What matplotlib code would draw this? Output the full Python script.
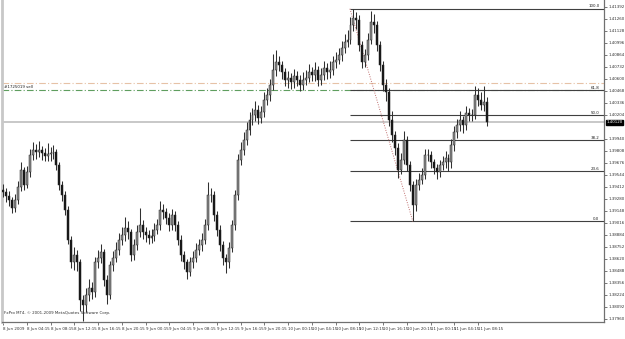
import matplotlib
matplotlib.use("Agg")
import matplotlib.pyplot as plt
import matplotlib.transforms as mtransforms

# ---------------- data (30-minute bars, 8 Jun 2009 onward) ----------------
opens = [1.3938, 1.3935, 1.3931, 1.3927, 1.3918, 1.3927, 1.3941, 1.3960, 1.3943, 1.3957,
         1.3976, 1.3982, 1.3979, 1.3982, 1.3978, 1.3975, 1.3977, 1.3978, 1.3979, 1.3965,
         1.3943, 1.3932, 1.3916, 1.3883, 1.3858, 1.3866, 1.3858, 1.3817, 1.3811, 1.3822,
         1.3830, 1.3825, 1.3858, 1.3863, 1.3869, 1.3839, 1.3822, 1.3855, 1.3863, 1.3872,
         1.3883, 1.3888, 1.3896, 1.3891, 1.3866, 1.3877, 1.3891, 1.3899, 1.3891, 1.3888,
         1.3885, 1.3887, 1.3894, 1.3899, 1.3916, 1.3913, 1.3907, 1.3899, 1.3910, 1.3899,
         1.3883, 1.3866, 1.3858, 1.3847, 1.3858, 1.3863, 1.3872, 1.3877, 1.3883, 1.3899,
         1.3932, 1.3932, 1.3910, 1.3894, 1.3877, 1.3863, 1.3858, 1.3874, 1.3899, 1.3932,
         1.3971, 1.3982, 1.3993, 1.4004, 1.4015, 1.4020, 1.4026, 1.4017, 1.4023, 1.4037,
         1.4042, 1.4053, 1.4070, 1.4078, 1.4075, 1.4067, 1.4059, 1.4061, 1.4056, 1.4063,
         1.4059, 1.4053, 1.4059, 1.4061, 1.4067, 1.4064, 1.4070, 1.4059, 1.4064, 1.4072,
         1.4067, 1.4070, 1.4078, 1.4081, 1.4086, 1.4094, 1.4100, 1.4103, 1.4119, 1.4127,
         1.4125, 1.4097, 1.4078, 1.4086, 1.4103, 1.4122, 1.4119, 1.4097, 1.4075, 1.4053,
         1.4045, 1.4015, 1.3998, 1.3984, 1.3960, 1.3971, 1.3993, 1.3965, 1.3943, 1.3921,
         1.3943, 1.3949, 1.3954, 1.3976, 1.3976, 1.3968, 1.3962, 1.3957, 1.3965, 1.3968,
         1.3973, 1.3968, 1.3987, 1.4001, 1.4009, 1.4015, 1.4009, 1.4022, 1.4020, 1.4020,
         1.4042, 1.4037, 1.4031, 1.4034]
highs = [1.3944, 1.3940, 1.3936, 1.3930, 1.3933, 1.3948, 1.3968, 1.3963, 1.3964, 1.3983,
         1.3990, 1.3988, 1.3992, 1.3986, 1.3984, 1.3989, 1.3985, 1.3987, 1.3983, 1.3968,
         1.3948, 1.3936, 1.3920, 1.3887, 1.3875, 1.3872, 1.3862, 1.3822, 1.3830, 1.3840,
         1.3836, 1.3864, 1.3872, 1.3878, 1.3873, 1.3844, 1.3860, 1.3870, 1.3880, 1.3890,
         1.3897, 1.3908, 1.3904, 1.3895, 1.3884, 1.3899, 1.3918, 1.3905, 1.3897, 1.3894,
         1.3895, 1.3901, 1.3906, 1.3925, 1.3922, 1.3918, 1.3912, 1.3917, 1.3914, 1.3903,
         1.3888, 1.3871, 1.3862, 1.3864, 1.3870, 1.3879, 1.3884, 1.3890, 1.3906, 1.3946,
         1.3940, 1.3936, 1.3915, 1.3899, 1.3881, 1.3867, 1.3880, 1.3905, 1.3938, 1.3977,
         1.3990, 1.4001, 1.4012, 1.4023, 1.4028, 1.4035, 1.4031, 1.4030, 1.4045, 1.4050,
         1.4060, 1.4087, 1.4092, 1.4085, 1.4080, 1.4072, 1.4069, 1.4066, 1.4071, 1.4068,
         1.4064, 1.4067, 1.4070, 1.4076, 1.4073, 1.4078, 1.4074, 1.4072, 1.4080, 1.4077,
         1.4079, 1.4085, 1.4089, 1.4094, 1.4102, 1.4109, 1.4114, 1.4128, 1.4137, 1.4133,
         1.4130, 1.4102, 1.4093, 1.4110, 1.4134, 1.4131, 1.4124, 1.4102, 1.4080, 1.4060,
         1.4050, 1.4024, 1.4003, 1.3989, 1.3978, 1.4003, 1.3997, 1.3970, 1.3947, 1.3950,
         1.3956, 1.3962, 1.3983, 1.3983, 1.3980, 1.3972, 1.3966, 1.3971, 1.3975, 1.3980,
         1.3977, 1.3994, 1.4008, 1.4016, 1.4024, 1.4019, 1.4030, 1.4028, 1.4027, 1.4052,
         1.4050, 1.4045, 1.4052, 1.4040]
lows = [1.3930, 1.3924, 1.3920, 1.3912, 1.3913, 1.3922, 1.3936, 1.3938, 1.3940, 1.3952,
        1.3971, 1.3972, 1.3974, 1.3971, 1.3969, 1.3970, 1.3970, 1.3972, 1.3960, 1.3938,
        1.3926, 1.3910, 1.3878, 1.3852, 1.3850, 1.3848, 1.3805, 1.3794, 1.3803, 1.3815,
        1.3818, 1.3820, 1.3852, 1.3857, 1.3832, 1.3812, 1.3818, 1.3849, 1.3858, 1.3866,
        1.3877, 1.3882, 1.3884, 1.3860, 1.3861, 1.3872, 1.3886, 1.3884, 1.3880, 1.3878,
        1.3879, 1.3882, 1.3889, 1.3894, 1.3906, 1.3900, 1.3893, 1.3894, 1.3892, 1.3877,
        1.3860, 1.3851, 1.3840, 1.3843, 1.3852, 1.3858, 1.3866, 1.3871, 1.3878, 1.3894,
        1.3924, 1.3904, 1.3887, 1.3870, 1.3855, 1.3846, 1.3852, 1.3869, 1.3894, 1.3927,
        1.3965, 1.3976, 1.3987, 1.3998, 1.4009, 1.4013, 1.4010, 1.4011, 1.4018, 1.4031,
        1.4036, 1.4048, 1.4063, 1.4068, 1.4060, 1.4052, 1.4050, 1.4049, 1.4050, 1.4052,
        1.4046, 1.4048, 1.4053, 1.4056, 1.4057, 1.4058, 1.4052, 1.4053, 1.4059, 1.4060,
        1.4061, 1.4064, 1.4072, 1.4076, 1.4080, 1.4088, 1.4095, 1.4098, 1.4112, 1.4115,
        1.4090, 1.4072, 1.4073, 1.4081, 1.4098, 1.4110, 1.4090, 1.4068, 1.4046, 1.4036,
        1.4008, 1.3990, 1.3976, 1.3951, 1.3955, 1.3966, 1.3958, 1.3936, 1.3903, 1.3915,
        1.3938, 1.3944, 1.3950, 1.3969, 1.3962, 1.3955, 1.3950, 1.3952, 1.3960, 1.3962,
        1.3958, 1.3962, 1.3981, 1.3995, 1.4002, 1.4000, 1.4004, 1.4014, 1.4013, 1.4016,
        1.4030, 1.4026, 1.4025, 1.4008]
closes = [1.3935, 1.3931, 1.3927, 1.3918, 1.3927, 1.3941, 1.3960, 1.3943, 1.3957, 1.3976,
          1.3982, 1.3979, 1.3982, 1.3978, 1.3975, 1.3977, 1.3978, 1.3979, 1.3965, 1.3943,
          1.3932, 1.3916, 1.3883, 1.3858, 1.3866, 1.3858, 1.3817, 1.3811, 1.3822, 1.3830,
          1.3825, 1.3858, 1.3863, 1.3869, 1.3839, 1.3822, 1.3855, 1.3863, 1.3872, 1.3883,
          1.3888, 1.3896, 1.3891, 1.3866, 1.3877, 1.3891, 1.3899, 1.3891, 1.3888, 1.3885,
          1.3887, 1.3894, 1.3899, 1.3916, 1.3913, 1.3907, 1.3899, 1.3910, 1.3899, 1.3883,
          1.3866, 1.3858, 1.3847, 1.3858, 1.3863, 1.3872, 1.3877, 1.3883, 1.3899, 1.3932,
          1.3932, 1.3910, 1.3894, 1.3877, 1.3863, 1.3858, 1.3874, 1.3899, 1.3932, 1.3971,
          1.3982, 1.3993, 1.4004, 1.4015, 1.4020, 1.4026, 1.4017, 1.4023, 1.4037, 1.4042,
          1.4053, 1.4070, 1.4078, 1.4075, 1.4067, 1.4059, 1.4061, 1.4056, 1.4063, 1.4059,
          1.4053, 1.4059, 1.4061, 1.4067, 1.4064, 1.4070, 1.4059, 1.4064, 1.4072, 1.4067,
          1.4070, 1.4078, 1.4081, 1.4086, 1.4094, 1.4100, 1.4103, 1.4119, 1.4127, 1.4125,
          1.4097, 1.4078, 1.4086, 1.4103, 1.4122, 1.4119, 1.4097, 1.4075, 1.4053, 1.4045,
          1.4015, 1.3998, 1.3984, 1.3960, 1.3971, 1.3993, 1.3965, 1.3943, 1.3921, 1.3943,
          1.3949, 1.3954, 1.3976, 1.3976, 1.3968, 1.3962, 1.3957, 1.3965, 1.3968, 1.3973,
          1.3968, 1.3987, 1.4001, 1.4009, 1.4015, 1.4009, 1.4022, 1.4020, 1.4020, 1.4042,
          1.4037, 1.4031, 1.4034, 1.4012]

time_labels = ["8 Jun 2009", "8 Jun 04:15", "8 Jun 08:15", "8 Jun 12:15", "8 Jun 16:15",
               "8 Jun 20:15", "9 Jun 00:15", "9 Jun 04:15", "9 Jun 08:15", "9 Jun 12:15",
               "9 Jun 16:15", "9 Jun 20:15", "10 Jun 00:15", "10 Jun 04:15", "10 Jun 08:15",
               "10 Jun 12:15", "10 Jun 16:15", "10 Jun 20:15", "11 Jun 00:15", "11 Jun 04:15",
               "11 Jun 08:15"]
time_label_bars = [0, 8, 16, 24, 32, 40, 48, 56, 64, 72, 80, 88, 96, 104, 112, 120,
                   128, 136, 144, 152, 160]

price_ticks = [1.37960, 1.38092, 1.38224, 1.38356, 1.38488, 1.38620, 1.38752, 1.38884,
               1.39016, 1.39148, 1.39280, 1.39412, 1.39544, 1.39676, 1.39808, 1.39940,
               1.40204, 1.40336, 1.40468, 1.40600, 1.40732, 1.40864,
               1.40996, 1.41128, 1.41260, 1.41392]

fib_levels = [0.0, 23.6, 38.2, 50.0, 61.8, 100.0]
fib_high = 1.4137
fib_low = 1.3903
fib_high_bar = 118
fib_low_bar = 138

order_price = 1.40476
order_label = "#1725019 sell"
alert_price = 1.40553
bid_price = 1.40120
copyright_text = "FxPro MT4, \u00a9 2001-2009 MetaQuotes Software Corp."

# ---------------- figure ----------------
W, H = 625, 339
fig = plt.figure(figsize=(W / 100, H / 100), dpi=100)
ax = fig.add_axes([2 / W, 17 / H, 602 / W, 322 / H])
ax.set_facecolor("white")

ax.set_xlim(-0.34, 202.36)
ax.set_ylim(1.37924, 1.41466)

small = 2.9

# extra lines (drawn below candles)
ax.axhline(bid_price, color="#c8c8c8", lw=1.4, zorder=1)
ax.axhline(alert_price, color="#e6c2a6", lw=0.8, ls=(0, (6, 2, 1, 2)), zorder=1)
ax.axhline(order_price, color="#5f9e5f", lw=0.8, ls=(0, (6, 2, 1, 2)), zorder=1)

# candles
xs = list(range(len(closes)))
ax.vlines(xs, lows, highs, color="#303030", lw=0.75, zorder=3)
for i in xs:
    o, c = opens[i], closes[i]
    bottom = min(o, c)
    height = max(abs(c - o), 0.00005)
    bull = c >= o
    ax.bar(i, height, bottom=bottom, width=0.66,
           color="#8c8c8c" if bull else "#141414",
           edgecolor="#252525", linewidth=0.35, zorder=4)

# fibonacci retracement
fib_right = 202.36
for lvl in fib_levels:
    p = fib_low + (fib_high - fib_low) * lvl / 100.0
    ax.hlines(p, fib_high_bar - 1.2, fib_right, color="#404040", lw=0.8, zorder=2)
    ax.text(200.8, p + 0.00004, f"{lvl:.1f}", ha="right", va="bottom",
            fontsize=small, color="#202020", zorder=5)
ax.plot([fib_high_bar - 1.2, fib_low_bar], [fib_high, fib_low], color="#c07070",
        lw=0.7, ls=(0, (1, 1.5)), zorder=2)

# texts
trans = mtransforms.blended_transform_factory(ax.transAxes, ax.transData)
ax.text(0.003, order_price + 0.00008, order_label, transform=trans,
        fontsize=small, color="#202020", va="bottom", ha="left")
ax.text(0.003, 0.022, copyright_text, transform=ax.transAxes,
        fontsize=small, color="#303030", va="bottom", ha="left")

# axes styling
ax.spines["top"].set_visible(False)
ax.spines["left"].set_color("#c8c8c8")
ax.spines["left"].set_linewidth(2.0)
ax.spines["right"].set_color("#707070")
ax.spines["right"].set_linewidth(0.9)
ax.spines["bottom"].set_color("#707070")
ax.spines["bottom"].set_linewidth(0.9)

ax.yaxis.tick_right()
ax.set_yticks(price_ticks)
ax.set_yticklabels([f"{t:.5f}" for t in price_ticks])
ax.tick_params(axis="y", which="both", direction="out", length=2, width=0.6,
               colors="#606060", labelsize=small, pad=1.0, labelcolor="#303030")

ax.set_xticks(time_label_bars)
ax.set_xticklabels(time_labels)
ax.tick_params(axis="x", which="both", direction="out", length=2, width=0.6,
               colors="#606060", labelsize=small, pad=1.5, labelcolor="#303030")
for lab in ax.get_xticklabels():
    lab.set_horizontalalignment("left")

# current price box on the price scale
ax.text(1.004, bid_price, f"{bid_price:.5f}", transform=trans, fontsize=small,
        color="white", va="center", ha="left",
        bbox=dict(boxstyle="square,pad=0.2", fc="black", ec="black"), zorder=6,
        clip_on=False)

fig.savefig("out.png", dpi=100, facecolor="white")
